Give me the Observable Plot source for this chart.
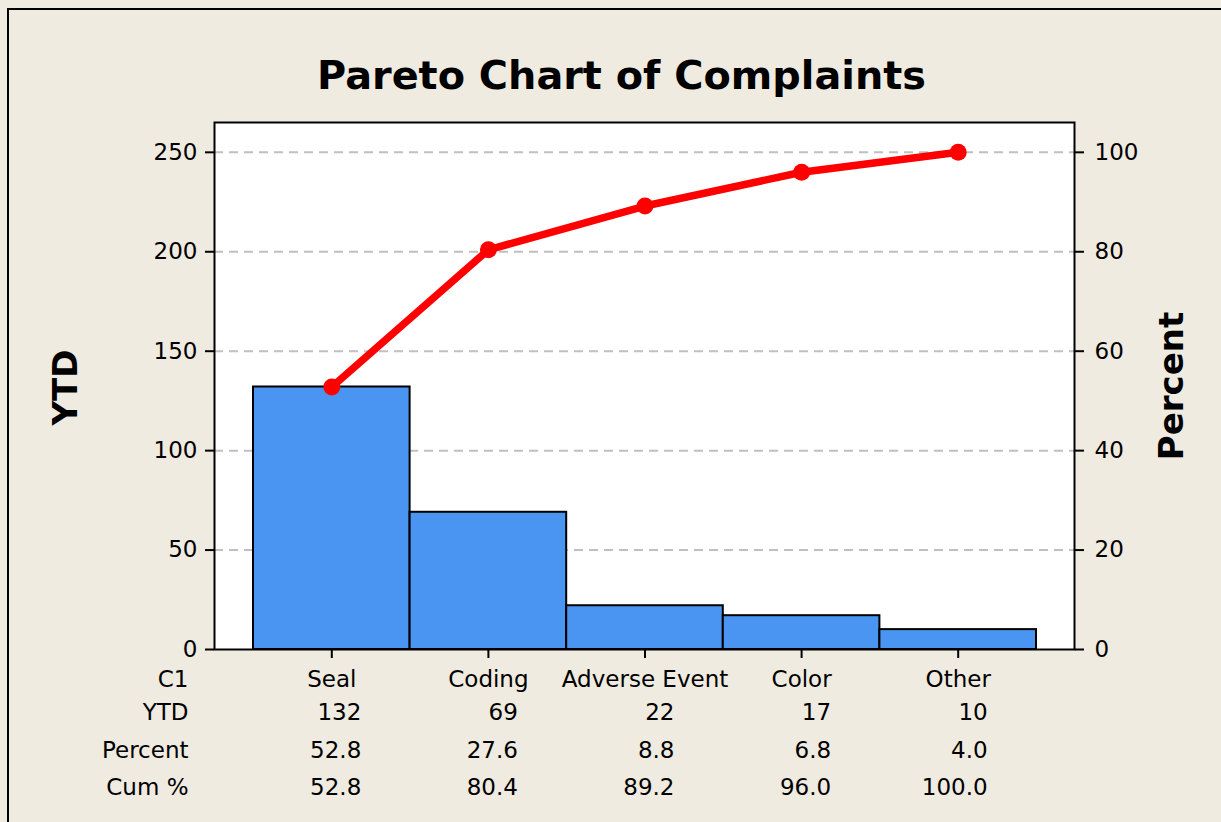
<!DOCTYPE html>
<html><head><meta charset="utf-8">
<script src="https://cdn.jsdelivr.net/npm/d3@7"></script>
<script src="https://cdn.jsdelivr.net/npm/@observablehq/plot@0.6"></script>
<style>
html,body{margin:0;padding:0;background:#EFEBE0;overflow:hidden;}
#wrap{position:relative;width:1221px;height:822px;}
#border{position:absolute;left:7px;top:8px;width:1300px;height:900px;border-left:2px solid #000;border-top:2px solid #000;pointer-events:none;}
#title{padding-top:55px;box-sizing:content-box;width:1243px;text-align:center;font-family:"DejaVu Sans";font-weight:bold;font-size:39.8px;line-height:40px;height:40px;padding-bottom:15px;color:#000;white-space:nowrap;}
#chart svg{display:block;}
</style>
</head><body>
<div id="wrap">
  <div id="title">Pareto Chart of Complaints</div>
  <div id="chart"></div>
  <div id="border"></div>
</div>
<script>
const categories = ["Seal", "Coding", "Adverse Event", "Color", "Other"];
const ytd = [132, 69, 22, 17, 10];
const percent = [52.8, 27.6, 8.8, 6.8, 4.0];
const cumPercent = [52.8, 80.4, 89.2, 96.0, 100.0];
const leftTicks = [0, 50, 100, 150, 200, 250];
const rightTicks = [0, 20, 40, 60, 80, 100];
const rowLabels = ["C1", "YTD", "Percent", "Cum %"];
const leftTitle = "YTD";
const rightTitle = "Percent";

const total = d3.sum(ytd);
const data = categories.map((c, i) => ({cat: c, ytd: ytd[i], pct: percent[i], cum: cumPercent[i]}));

// layout (pixel offsets below the frame bottom for each table row baseline)
const rowOffsets = [37, 70, 108.5, 145];
const valueRows = [
  {key: "ytd", fmt: d => String(d)},
  {key: "pct", fmt: d => d.toFixed(1)},
  {key: "cum", fmt: d => d.toFixed(1)}
];
const FS = 23;

const cumY = d => d.cum * total / 100;

const marks = [
  Plot.frame({fill: "white"}),
  Plot.gridY(leftTicks.slice(1), {stroke: "#c0c0c0", strokeOpacity: 1, strokeWidth: 2, strokeDasharray: "9,6"}),
  Plot.barY(data, {x: "cat", y: "ytd", fill: "#4A95F2", stroke: "#000", strokeWidth: 2}),
  Plot.line(data, {x: "cat", y: cumY, stroke: "#ff0000", strokeWidth: 7.5}),
  Plot.dot(data, {x: "cat", y: cumY, r: 8.5, fill: "#ff0000"}),
  Plot.frame({stroke: "#000", strokeWidth: 2}),
  Plot.axisY(leftTicks, {anchor: "left", tickSize: 9, tickPadding: 8, strokeWidth: 2, fontSize: FS, label: null}),
  Plot.axisY(leftTicks, {anchor: "right", tickSize: 9, tickPadding: 11, strokeWidth: 2, fontSize: FS, label: null,
    tickFormat: d => String(rightTicks[leftTicks.indexOf(d)])}),
  Plot.axisX({anchor: "bottom", tickSize: 9, tickPadding: 12, strokeWidth: 2, fontSize: FS, label: null}),
  ...valueRows.map((r, i) => Plot.text(data, {
    x: "cat", frameAnchor: "bottom", text: d => r.fmt(d[r.key]), fontSize: FS,
    textAnchor: "end", dx: 29.5, dy: rowOffsets[i + 1] - 7, lineAnchor: "middle"
  })),
  ...rowLabels.map((lab, i) => Plot.text([lab], {
    frameAnchor: "bottom-left", text: d => d, textAnchor: "end", fontSize: FS,
    dx: -26, dy: rowOffsets[i] - 7, lineAnchor: "middle"
  })),
  Plot.text([leftTitle], {frameAnchor: "left", text: d => d, rotate: -90, dx: -148, dy: 1.5,
    fontWeight: "bold", fontSize: 34, textAnchor: "middle", lineAnchor: "middle"}),
  Plot.text([rightTitle], {frameAnchor: "right", text: d => d, rotate: -90, dx: 98,
    fontWeight: "bold", fontSize: 34, textAnchor: "middle", lineAnchor: "middle"})
];

const chart = Plot.plot({
  width: 1221, height: 712,
  marginTop: 12, marginBottom: 173, marginLeft: 214, marginRight: 147,
  style: {background: "transparent", fontFamily: "DejaVu Sans", fontSize: "23px", color: "#000", overflow: "visible"},
  x: {domain: categories, padding: 0, round: false, insetLeft: 39, insetRight: 38, label: null},
  y: {domain: [0, 265], label: null},
  marks
});
document.getElementById("chart").appendChild(chart);
</script>
</body></html>
